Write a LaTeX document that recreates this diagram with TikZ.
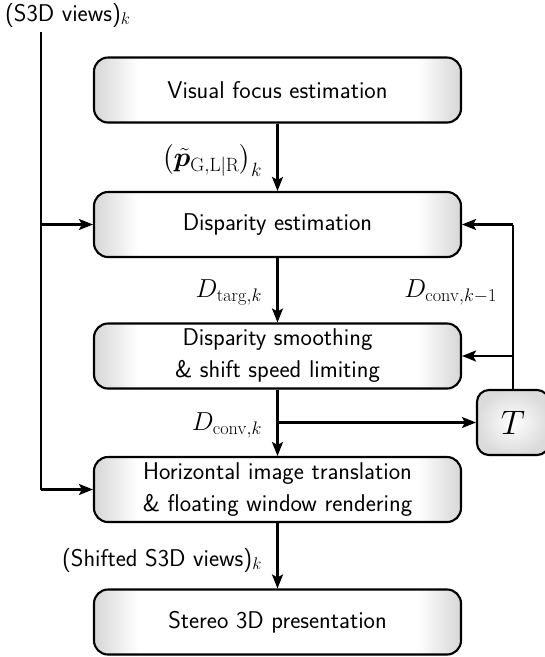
\RequirePackage{fix-cm}
\documentclass[tikz,border=0pt]{standalone}
\usepackage{amsmath}
\usepackage{bm}
\usetikzlibrary{arrows.meta,shadows}

% gray at the left and right borders, white in the middle
\pgfdeclarehorizontalshading{stageshade}{100bp}{%
  color(0bp)=(gray!32); color(25bp)=(gray!32); color(31bp)=(white);
  color(69bp)=(white); color(75bp)=(gray!32); color(100bp)=(gray!32)}

\begin{document}
\begin{tikzpicture}[x=1pt, y=-1pt, line width=2.1pt,
  flow/.style={-{Stealth[length=14pt,width=11pt,inset=3pt]}},
  stage/.style={draw, rounded corners=14pt, minimum width=367pt,
    minimum height=65pt, shading=stageshade, align=center,
    font=\sffamily\fontsize{24.2}{32}\selectfont,
    drop shadow={shadow xshift=0.6pt, shadow yshift=-1.2pt, opacity=0.3}},
  delaybox/.style={draw, rounded corners=12pt, minimum width=72pt,
    minimum height=65pt, inner color=white, outer color=gray!28,
    font=\fontsize{34}{36}\selectfont,
    drop shadow={shadow xshift=0.6pt, shadow yshift=-1.2pt, opacity=0.3}},
  sig/.style={font=\sffamily\fontsize{24.2}{28}\selectfont, inner sep=1pt},
  mathsig/.style={font=\fontsize{26}{30}\selectfont, inner sep=1pt}]

\useasboundingbox (0,0) rectangle (545,657);

% processing stages
\node[stage] (vfe) at (277.5,90)   {Visual focus estimation};
\node[stage] (de)  at (277.5,224.5) {Disparity estimation};
\node[stage] (ds)  at (277.5,356)  {Disparity smoothing\\\& shift speed limiting};
\node[stage] (hit) at (277.5,489.5) {Horizontal image translation\\\& floating window rendering};
\node[stage] (pres) at (277.5,622) {Stereo 3D presentation};

% one-frame delay element
\node[delaybox] (T) at (513,422.5) {$T$};

% input views
\node[sig, anchor=west] (in) at (3,15) {(S3D views)$_k$};
\coordinate (inTop) at (41,32);
\coordinate (inBranch) at (41,224.5);
\coordinate (inBottom) at (41,489.5);
\draw (inTop) -- (inBottom);
\draw[flow] (inBranch) -- (de.west);
\draw[flow] (inBottom) -- (hit.west);

% main signal path
\draw[flow] (vfe.south) -- (de.north);
\draw[flow] (de.south) -- (ds.north);
\draw[flow] (ds.south) -- (hit.north);
\draw[flow] (hit.south) -- (pres.north);

% feedback through the delay
\coordinate (tap) at (ds.south |- T.west);
\draw[flow] (tap) -- (T.west);
\coordinate (fbTop) at (T.north |- de.east);
\coordinate (fbMid) at (T.north |- ds.east);
\draw (T.north) -- (fbTop);
\draw[flow] (fbTop) -- (de.east);
\draw[flow] (fbMid) -- (ds.east);

% signal labels
\node[mathsig, anchor=east, font=\fontsize{27.5}{30}\selectfont] (lp) at (264,160) {$\bigl(\tilde{\bm p}_{\mathrm{G,L|R}}\bigr)_k$};
\node[mathsig, anchor=east] (lt) at (264,292) {$D_{\mathrm{targ},k}$};
\node[mathsig, anchor=east] (lc1) at (499,292) {$D_{\mathrm{conv},k-1}$};
\node[mathsig, anchor=east] (lc) at (264,425) {$D_{\mathrm{conv},k}$};
\node[sig, anchor=east] (ls) at (264,560) {(Shifted S3D views)$_k$};
\end{tikzpicture}
\end{document}
